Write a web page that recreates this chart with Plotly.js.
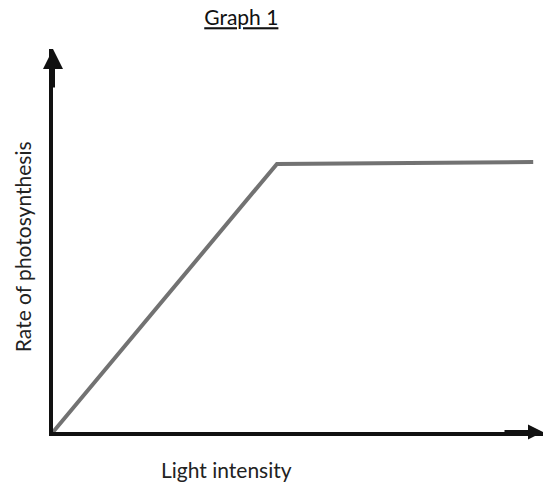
<!DOCTYPE html>
<html>
<head>
<meta charset="utf-8">
<script src="https://cdn.plot.ly/plotly-3.0.1.min.js"></script>
<style>html,body{margin:0;padding:0;background:#fff;}#chart{width:546px;height:483px;}</style>
</head>
<body>
<div id="chart"></div>
<script>
// Light intensity (arbitrary units) and rate of photosynthesis (arbitrary units)
const lightIntensity = [0, 4.57, 9.8];
const photosynthesisRate = [0, 7.0, 7.05];
const titleText = "Graph 1";
const xTitle = "Light intensity";
const yTitle = "Rate of photosynthesis";

const font = "Lato, 'Open Sans', 'Liberation Sans', sans-serif";

const trace = {
  x: lightIntensity,
  y: photosynthesisRate,
  type: "scatter",
  mode: "lines",
  line: {color: "#727272", width: 4},
  hoverinfo: "skip"
};

const layout = {
  width: 546, height: 483,
  margin: {l: 53, r: 3, t: 49, b: 51},
  paper_bgcolor: "#ffffff",
  plot_bgcolor: "#ffffff",
  showlegend: false,
  title: {
    text: "<u>" + titleText + "</u>",
    x: 0.442, xanchor: "center",
    y: 0.963, yanchor: "middle",
    font: {family: font, size: 21, color: "#111"}
  },
  xaxis: {
    range: [0, 10], showgrid: false, zeroline: false,
    showline: true, linecolor: "#111", linewidth: 4,
    showticklabels: false, ticks: ""
  },
  yaxis: {
    range: [0, 10], showgrid: false, zeroline: false,
    showline: true, linecolor: "#111", linewidth: 4,
    showticklabels: false, ticks: ""
  },
  annotations: [
    {xref: "paper", yref: "paper", x: 0.355, y: -0.097, text: xTitle,
     showarrow: false, xanchor: "center", yanchor: "middle",
     font: {family: font, size: 21, color: "#222"}},
    {xref: "paper", yref: "paper", x: -0.063, y: 0.483, text: yTitle,
     showarrow: false, textangle: -90, xanchor: "center", yanchor: "middle",
     font: {family: font, size: 21, color: "#222"}},
    {xref: "paper", yref: "paper", x: 0, y: 1, ax: 0, ay: 40, text: "",
     showarrow: true, arrowhead: 2, arrowsize: 1.0, arrowwidth: 4, arrowcolor: "#111"},
    {xref: "paper", yref: "paper", x: 1, y: 0, ax: -40, ay: 0, text: "",
     showarrow: true, arrowhead: 2, arrowsize: 0.75, arrowwidth: 4, arrowcolor: "#111"}
  ]
};

Plotly.newPlot("chart", [trace], layout, {displayModeBar: false, staticPlot: true});
</script>
</body>
</html>
